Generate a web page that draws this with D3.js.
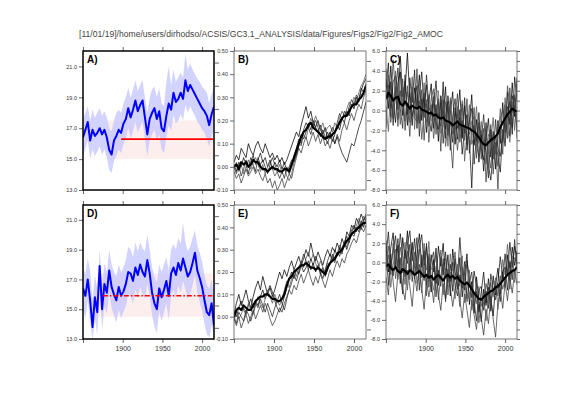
<!DOCTYPE html>
<html><head><meta charset="utf-8">
<script src="https://cdn.jsdelivr.net/npm/d3@7"></script>
<style>html,body{margin:0;padding:0;background:#fff;}svg{display:block}</style>
</head><body><svg id="c" width="561" height="397"></svg>
<script>
const titleText = "[11/01/19]/home/users/dirhodso/ACSIS/GC3.1_ANALYSIS/data/Figures/Figs2/Fig2/Fig2_AMOC";
const panelLetters = ["A)","B)","C)","D)","E)","F)"];
const years = [1850,1853,1856,1859,1862,1865,1868,1871,1874,1877,
1880,1883,1886,1889,1892,1895,1898,1901,1904,1907,
1910,1913,1916,1919,1922,1925,1928,1931,1934,1937,
1940,1943,1946,1949,1952,1955,1958,1961,1964,1967,
1970,1973,1976,1979,1982,1985,1988,1991,1994,1997,
2000,2003,2006,2009,2012,2015];
const xTickYears = [1850,1900,1950,2000];
const xLabelYears = [1900,1950,2000];
const amocTicks = [13,15,17,19,21];
const trendTicks = [-0.1,0,0.1,0.2,0.3,0.4,0.5];
const trendMinor = [-0.05,0.05,0.15,0.25,0.35,0.45];
const anomTicks = [-8,-6,-4,-2,0,2,4,6];
const anomMinor = [-7,-5,-3,-1,1,3,5];
const anomAll = [-8,-7,-6,-5,-4,-3,-2,-1,0,1,2,3,4,5,6];

// Panel A : AMOC ensemble mean, spread, observed band and reference
const aMean = [16.4,16.9,17.4,16.2,16.9,16.5,16.7,17.0,16.6,16.9,
16.4,15.6,15.3,16.2,16.5,16.9,16.7,17.3,17.6,18.3,
17.7,18.2,18.8,18.1,18.5,18.8,17.7,16.6,17.6,18.0,
18.3,17.6,18.1,17.0,16.8,17.8,18.6,18.2,19.3,18.7,
18.9,19.3,18.9,20.1,19.4,19.8,19.5,19.2,18.9,18.6,
18.3,18.1,17.8,17.2,17.9,18.4];
const aHigh = [17.6,18.0,18.4,17.5,18.2,17.7,18.0,18.3,17.8,18.1,
17.7,17.0,16.8,17.5,18.0,18.2,18.0,18.6,19.0,19.6,
19.0,19.5,20.1,19.4,19.8,20.1,19.0,18.0,19.0,19.5,
19.7,19.0,19.6,18.6,18.4,20.0,21.0,19.8,20.8,20.0,
20.3,20.6,20.3,21.8,20.8,21.2,20.8,20.5,20.2,20.0,
19.7,19.5,19.3,18.6,19.2,19.6];
const aLow = [15.2,15.7,16.2,15.0,15.6,15.2,15.5,15.8,15.3,15.6,
15.1,14.3,14.1,14.9,15.2,15.6,15.4,16.0,16.3,17.0,
16.3,16.8,17.4,16.7,17.1,17.4,16.3,15.2,16.2,16.6,
16.9,16.2,16.6,15.6,15.4,16.4,17.2,16.8,17.8,17.3,
17.5,17.9,17.5,18.5,18.0,18.4,18.1,17.8,17.4,17.2,
16.9,16.7,16.3,15.8,16.5,17.0];
const aBand = [15.0,17.5];
const aBandYears = [1880,2014];
const aRef = 16.3;
const aRefYears = [1898,2014];

// Panel D
const dMean = [16.4,15.9,17.0,15.6,13.8,15.8,14.8,17.9,15.0,16.7,
16.1,17.6,16.5,16.0,15.6,16.5,15.9,16.2,16.7,17.5,
17.4,16.9,17.8,17.3,18.0,17.5,17.2,18.3,17.4,16.1,
15.4,15.0,16.4,15.8,16.3,16.9,15.9,17.4,17.8,17.3,
18.1,17.6,18.4,17.8,17.2,17.5,18.1,18.8,17.6,17.1,
16.5,15.6,14.8,14.6,15.4,13.9];
const dHigh = [17.8,17.4,18.4,17.6,15.6,17.3,16.4,19.0,16.6,18.1,
17.5,19.0,18.0,17.5,17.2,18.0,17.5,17.8,18.3,19.2,
19.0,18.5,19.5,18.9,19.5,19.1,18.9,20.0,19.0,17.8,
17.2,16.8,18.0,17.5,18.0,18.5,17.6,19.0,19.4,19.0,
19.8,19.4,20.8,19.5,18.9,19.2,19.8,20.3,19.3,18.8,
18.2,17.3,16.6,16.4,17.0,15.8];
const dLow = [15.0,14.4,15.6,14.2,12.9,14.3,13.3,16.5,13.6,15.2,
14.7,16.1,15.1,14.6,14.1,15.0,14.4,14.8,15.2,16.0,
15.9,15.4,16.3,15.8,16.5,16.0,15.7,16.7,15.9,14.6,
13.8,13.4,14.9,14.2,14.8,15.4,14.3,15.9,16.3,15.7,
16.6,16.1,16.9,16.3,15.7,16.0,16.6,17.3,16.1,15.5,
14.9,14.0,13.3,13.1,13.9,13.2];
const dBand = [14.5,17.4];
const dBandYears = [1868,2013];
const dRef = 15.9;
const dRefYears = [1875,2013];

// Panel B : ensemble members and mean
const bMean = [0.00,0.01,-0.01,0.02,0.01,0.02,0.00,0.01,0.03,0.02,
0.02,0.00,-0.01,-0.01,-0.02,-0.01,0.00,-0.01,-0.01,-0.02,
-0.02,-0.01,-0.01,-0.02,0.01,0.04,0.07,0.10,0.13,0.15,
0.16,0.18,0.19,0.17,0.16,0.15,0.14,0.13,0.12,0.13,
0.13,0.14,0.15,0.17,0.19,0.21,0.22,0.22,0.24,0.26,
0.27,0.27,0.29,0.30,0.32,0.35];
const bMember1 = [0.02,0.05,0.03,0.08,0.06,0.04,0.10,0.07,0.05,0.09,
0.11,0.08,0.06,0.10,0.07,0.04,0.06,0.03,0.05,0.02,
0.04,0.01,0.03,0.06,0.09,0.12,0.15,0.13,0.18,0.22,
0.26,0.21,0.24,0.19,0.17,0.20,0.16,0.14,0.17,0.12,
0.15,0.11,0.14,0.18,0.16,0.21,0.19,0.24,0.22,0.27,
0.25,0.30,0.28,0.33,0.36,0.38];
const bMember2 = [-0.02,-0.05,-0.03,-0.07,-0.04,-0.01,-0.04,-0.02,0.00,-0.03,
-0.01,-0.04,-0.06,-0.03,-0.07,-0.05,-0.09,-0.06,-0.10,-0.08,
-0.05,-0.09,-0.06,-0.03,-0.05,0.00,0.04,0.08,0.06,0.10,
0.13,0.09,0.12,0.15,0.11,0.14,0.10,0.13,0.09,0.11,
0.08,0.12,0.10,0.14,0.11,0.16,0.19,0.16,0.20,0.23,
0.20,0.24,0.27,0.25,0.30,0.33];
const bMember3 = [0.01,-0.02,0.02,0.00,0.04,0.01,-0.03,0.02,0.05,0.01,
0.03,0.06,0.02,0.04,0.00,0.03,-0.01,0.02,0.00,0.03,
-0.01,0.02,-0.02,0.00,0.03,0.02,0.05,0.09,0.14,0.12,
0.15,0.19,0.16,0.20,0.17,0.15,0.18,0.14,0.12,0.15,
0.12,0.14,0.10,0.13,0.09,0.06,0.04,0.02,0.06,0.10,
0.09,0.13,0.17,0.20,0.24,0.28];
const bMember4 = [-0.01,0.02,-0.02,0.01,-0.03,0.00,0.03,-0.01,0.02,0.04,
0.01,-0.02,0.01,-0.03,0.00,0.02,-0.01,-0.04,-0.02,0.01,
-0.03,0.00,-0.04,-0.06,-0.03,0.02,0.07,0.11,0.09,0.14,
0.12,0.17,0.21,0.18,0.22,0.19,0.16,0.19,0.15,0.17,
0.18,0.15,0.19,0.17,0.21,0.24,0.22,0.25,0.28,0.26,
0.30,0.28,0.32,0.35,0.37,0.40];
const bMember5 = [0.00,-0.03,0.01,-0.04,-0.01,0.03,0.00,0.04,0.01,-0.02,
0.04,0.01,0.03,0.00,-0.03,0.01,0.04,0.01,-0.02,-0.05,
-0.02,-0.05,0.00,-0.03,0.00,0.05,0.08,0.12,0.10,0.16,
0.19,0.17,0.14,0.18,0.20,0.17,0.13,0.16,0.13,0.10,
0.14,0.17,0.15,0.19,0.23,0.20,0.24,0.22,0.26,0.29,
0.27,0.31,0.29,0.34,0.32,0.36];

// Panel E
const eMean = [0.00,0.03,0.04,0.03,0.05,0.04,0.03,0.03,0.05,0.07,
0.08,0.09,0.09,0.10,0.10,0.09,0.08,0.08,0.07,0.07,
0.08,0.10,0.14,0.17,0.18,0.20,0.21,0.22,0.23,0.23,
0.24,0.23,0.22,0.22,0.21,0.22,0.21,0.20,0.19,0.22,
0.24,0.25,0.26,0.28,0.29,0.30,0.32,0.34,0.35,0.37,
0.38,0.39,0.40,0.41,0.42,0.42];
const eMember1 = [0.01,0.06,0.10,0.05,0.08,0.12,0.07,0.04,0.09,0.13,
0.16,0.12,0.18,0.14,0.10,0.13,0.09,0.12,0.16,0.20,
0.17,0.21,0.18,0.22,0.25,0.21,0.24,0.27,0.23,0.26,
0.30,0.27,0.33,0.28,0.25,0.29,0.26,0.23,0.27,0.30,
0.27,0.31,0.29,0.33,0.30,0.35,0.32,0.38,0.36,0.41,
0.39,0.44,0.42,0.46,0.43,0.45];
const eMember2 = [-0.01,-0.04,0.00,-0.05,-0.02,0.01,-0.03,0.00,0.03,-0.01,
0.02,0.05,0.02,0.06,0.03,-0.01,-0.04,-0.02,0.01,0.04,
0.02,0.06,0.09,0.12,0.10,0.14,0.12,0.16,0.19,0.15,
0.18,0.21,0.17,0.14,0.18,0.15,0.19,0.16,0.13,0.17,
0.21,0.18,0.22,0.25,0.22,0.26,0.24,0.28,0.30,0.33,
0.35,0.33,0.37,0.40,0.38,0.41];
const eMember3 = [0.02,0.00,0.04,0.07,0.03,0.01,0.05,0.08,0.04,0.07,
0.05,0.09,0.12,0.08,0.11,0.14,0.11,0.07,0.04,0.02,
0.05,0.09,0.13,0.17,0.20,0.17,0.21,0.19,0.23,0.20,
0.22,0.25,0.21,0.24,0.20,0.23,0.19,0.22,0.18,0.21,
0.24,0.28,0.25,0.29,0.27,0.31,0.33,0.30,0.34,0.37,
0.36,0.40,0.38,0.43,0.40,0.44];
const eMember4 = [-0.02,0.02,-0.01,0.01,0.04,0.02,0.06,0.03,0.01,0.05,
0.09,0.06,0.04,0.08,0.12,0.09,0.06,0.10,0.07,0.05,
0.08,0.12,0.16,0.13,0.17,0.21,0.18,0.22,0.25,0.22,
0.26,0.29,0.25,0.28,0.24,0.21,0.25,0.22,0.20,0.24,
0.23,0.27,0.24,0.28,0.32,0.29,0.34,0.31,0.36,0.39,
0.37,0.41,0.44,0.41,0.45,0.43];
const eMember5 = [0.00,-0.03,0.02,0.00,-0.02,0.03,0.01,-0.02,0.02,0.06,
0.04,0.08,0.05,0.02,0.06,0.03,0.00,0.04,0.07,0.10,
0.06,0.03,0.08,0.12,0.15,0.19,0.16,0.20,0.24,0.28,
0.25,0.21,0.26,0.23,0.27,0.24,0.20,0.17,0.21,0.25,
0.28,0.25,0.30,0.27,0.31,0.28,0.33,0.36,0.33,0.38,
0.41,0.38,0.42,0.39,0.43,0.46];

// Panel C
const cMean = [1.2,1.8,1.5,1.0,1.3,1.4,0.7,0.5,0.9,0.6,
0.2,0.5,0.3,0.2,0.4,0.1,0.0,-0.1,-0.3,-0.2,
-0.5,-0.4,-0.7,-0.8,-0.7,-1.0,-1.1,-1.2,-1.5,-1.3,
-1.1,-1.4,-1.5,-1.6,-1.7,-1.8,-2.0,-2.1,-2.4,-2.7,
-3.1,-3.4,-3.5,-3.2,-3.0,-2.8,-2.6,-2.3,-1.7,-1.2,
-0.8,-0.4,-0.1,0.2,0.0,-0.1];
const cMember1 = [3.1,0.2,4.5,1.0,-1.2,2.8,3.9,-0.5,2.0,5.8,
1.2,-1.5,2.3,0.4,3.6,-1.0,1.8,-2.2,0.9,2.7,
-1.8,0.6,-3.1,1.5,-0.7,2.4,-2.5,-0.3,1.9,-3.4,
-0.6,2.1,-2.8,0.5,-4.0,-1.2,1.6,-3.5,-0.9,-5.2,
-2.4,-6.1,-3.0,-0.8,-4.7,-2.1,-5.9,-1.0,-3.3,0.8,
-2.2,1.9,-1.4,2.8,-0.6,3.3];
const cMember2 = [-1.8,2.6,0.3,5.1,1.7,-0.9,1.4,3.2,-2.0,0.8,
-2.6,1.9,-0.4,4.2,-1.3,2.1,-3.0,0.7,-1.6,1.3,
2.2,-2.4,0.9,-4.1,1.1,-1.9,0.4,-2.7,-5.8,-0.8,
1.7,-3.2,-1.0,-2.3,1.2,-4.3,-2.0,0.3,-4.8,-1.6,
-4.9,-1.8,-7.2,-3.6,-1.4,-6.4,-3.2,-7.9,-2.0,-4.4,
0.6,-2.8,2.3,-1.7,1.4,-0.9];
const cMember3 = [2.2,4.8,-0.6,2.9,3.5,0.1,5.5,1.4,3.0,-1.5,
3.3,0.8,4.1,-1.8,1.6,3.9,0.2,2.6,-0.9,-2.1,
0.7,3.0,-0.5,-1.6,2.9,-2.8,1.5,-1.1,-3.2,0.3,
-2.9,0.1,-4.4,-1.8,-0.4,-2.9,-7.8,-1.5,-3.1,-0.2,
-3.8,-5.0,-1.2,-5.5,-7.0,-3.9,-2.6,-4.7,-6.2,-1.9,
-3.6,-0.5,0.9,-2.4,3.4,1.0];
const cMember4 = [0.4,-2.1,2.6,-0.8,4.0,1.6,-1.4,2.3,0.5,1.9,
-0.3,3.4,-1.9,1.7,-0.8,-0.2,2.8,-1.2,1.6,-1.0,
-0.9,1.8,2.0,-2.3,-1.6,0.9,-3.6,1.3,-1.8,-2.0,
0.4,-2.0,1.0,-5.1,-2.2,0.6,-3.4,-2.6,0.4,-3.3,
-1.1,-3.9,-5.4,-2.4,-3.0,-0.7,-4.4,-2.9,0.2,-3.2,
1.3,-1.5,-3.2,0.9,-2.0,2.2];
const cMember5 = [4.2,1.3,2.9,-1.5,1.9,4.3,0.2,-1.8,3.6,-0.4,
1.8,-0.6,0.9,2.5,-2.6,1.2,-0.7,3.6,0.4,-0.5,
1.4,-1.2,-1.9,0.8,-3.3,-0.4,0.9,-4.0,-0.6,1.2,
-1.8,-0.7,-2.6,1.3,-3.4,-1.0,0.2,-5.4,-2.6,-1.2,
-3.1,-0.4,-4.0,-6.8,-1.9,-4.9,-0.9,-3.8,-4.6,-2.6,
-1.0,0.4,-2.6,1.5,0.2,-1.7];
const cMember6 = [1.0,3.6,-1.2,0.6,2.4,-1.6,2.0,1.0,-1.1,2.5,
-1.2,2.4,-0.8,-1.1,1.0,-2.9,-0.2,1.1,-3.2,0.6,
-2.8,-0.3,1.2,-1.0,-0.2,-3.6,-1.6,1.0,-2.4,-1.3,
-4.0,-1.3,0.7,-3.0,-0.9,-2.4,-1.1,-0.6,-3.6,-4.5,
-2.0,-3.2,-2.4,-4.1,-5.8,-2.5,-3.8,-5.6,-0.8,0.1,
-3.2,2.5,0.4,-0.2,1.6,-2.8];

// Panel F
const fMean = [-0.4,-0.2,-0.6,-0.8,-0.5,-0.9,-1.1,-0.7,-0.9,-1.2,
-0.8,-1.0,-1.3,-1.1,-0.9,-1.2,-1.5,-1.3,-1.6,-1.4,
-1.8,-1.5,-1.3,-1.6,-1.9,-1.5,-1.3,-1.6,-1.4,-1.7,
-1.5,-1.9,-2.1,-2.3,-2.1,-2.4,-2.8,-3.2,-3.5,-3.8,
-3.9,-3.6,-3.4,-3.2,-3.0,-2.9,-2.6,-2.5,-2.2,-1.9,
-1.6,-1.3,-1.1,-0.9,-0.8,-0.5];
const fMember1 = [2.3,-1.0,1.5,3.1,-0.6,1.8,-2.2,2.6,0.4,3.3,
-0.8,2.1,-1.7,0.9,3.0,-0.5,1.2,-2.4,0.6,-3.1,
0.3,-2.2,1.7,-0.4,2.0,-1.6,0.8,-3.5,1.4,-0.9,
-2.8,0.5,-3.6,-1.1,0.9,-4.4,-2.0,-5.3,-1.5,-4.0,
-6.2,-2.8,-4.5,-1.7,-3.9,-5.6,-2.4,-0.6,-3.3,-1.0,
-2.6,0.8,-1.9,1.6,-0.3,1.2];
const fMember2 = [-1.5,-3.4,0.2,-2.0,-4.1,-1.2,0.5,-2.7,-3.9,-0.8,
-2.5,-4.6,-1.4,-3.0,-0.2,-2.8,-4.9,-1.9,-3.6,-2.0,
-4.2,-1.1,-3.3,-5.0,-2.2,-3.8,-0.7,-2.6,-4.6,-2.9,
-1.2,-3.9,-5.8,-3.3,-5.0,-6.8,-3.9,-5.5,-7.0,-4.4,
-5.8,-7.6,-4.9,-6.4,-3.6,-5.9,-7.8,-4.3,-2.8,-4.8,
-2.1,-4.0,-1.6,-3.2,-0.9,-2.3];
const fMember3 = [0.5,3.2,-0.4,1.2,2.8,-0.6,3.0,0.7,-1.5,1.9,
3.3,0.2,2.5,-1.2,1.6,2.9,-0.3,1.7,-1.4,0.8,
-1.0,1.5,-2.4,0.6,-1.3,1.1,-2.1,-0.2,-3.0,0.4,
-1.8,2.6,-1.0,-2.9,0.2,-1.6,-3.7,-0.9,-2.5,-5.2,
-3.1,-1.0,-4.2,-2.6,-5.1,-1.4,-3.4,-2.0,0.6,-1.7,
0.9,-1.2,2.1,-0.5,1.7,0.3];
const fMember4 = [-0.9,0.8,-2.6,-0.3,1.4,-1.8,0.2,-1.1,2.1,-2.9,
0.5,-1.3,1.1,-2.2,-0.7,-3.2,0.3,-0.8,2.2,-1.6,
-2.9,-0.4,-1.6,1.3,-3.4,-0.6,-2.6,0.9,-1.7,-3.8,
-0.2,-2.5,0.7,-4.2,-2.8,-0.8,-5.0,-3.1,-4.3,-2.5,
-4.6,-3.3,-6.1,-3.9,-2.1,-3.6,-1.6,-4.9,-2.6,0.3,
-1.3,1.9,-0.6,0.7,-2.1,0.9];
const fMember5 = [1.6,-2.4,0.9,-1.4,0.3,2.5,-0.9,-3.3,1.3,-0.1,
1.9,-2.0,0.0,2.6,-2.9,0.8,-1.9,2.0,-2.6,0.2,
1.1,-3.6,-0.8,-2.5,0.4,-4.1,-1.2,-2.0,0.0,-2.4,
-3.5,-1.3,-2.7,0.1,-3.8,-2.1,-1.0,-4.0,-6.1,-2.9,
-2.5,-5.0,-3.0,-4.8,-1.2,-2.8,-3.9,-2.2,-4.1,-0.9,
-0.5,-2.9,0.1,-1.8,2.4,-0.6];
const fMember6 = [-0.2,1.7,-1.3,2.0,-1.7,0.1,1.6,-0.4,-2.3,1.2,
-1.8,0.7,-0.6,-0.4,1.4,-1.6,2.0,-3.5,0.9,-0.7,
-0.6,0.8,-3.9,-1.3,-0.2,0.4,-3.4,-1.1,-0.8,1.1,
-2.1,-4.6,-0.5,-1.9,-4.1,-3.3,-2.4,-4.7,-3.0,-6.3,
-3.7,-4.4,-2.2,-3.4,-4.6,-1.9,-2.2,-3.5,-1.4,-2.8,
-1.8,-0.7,-2.8,-0.1,0.5,-0.2];

// ---------- layout ----------
const cols = [[83,214],[234,366],[386,517]];
const rows = [[51,190],[205,339]];
const FONT = "'Liberation Sans', Arial, sans-serif";
const memberColors = ["#000","#3a3a3a","#111","#555","#222","#444"];

const allSeries = [aMean,aHigh,aLow,dMean,dHigh,dLow,bMean,bMember1,bMember2,bMember3,bMember4,bMember5,
  eMean,eMember1,eMember2,eMember3,eMember4,eMember5,cMean,cMember1,cMember2,cMember3,cMember4,cMember5,cMember6,
  fMean,fMember1,fMember2,fMember3,fMember4,fMember5,fMember6];
allSeries.forEach((s,i)=>{ if(s.length!==years.length) throw new Error("series "+i+" has "+s.length); });

const panels = [
  {c:0,r:0,kind:"amoc",dom:[13,22],mean:aMean,hi:aHigh,lo:aLow,band:aBand,bandYears:aBandYears,ref:aRef,refYears:aRefYears,dashed:false},
  {c:1,r:0,kind:"trend",dom:[-0.1,0.5],mean:bMean,members:[bMember1,bMember2,bMember3,bMember4,bMember5]},
  {c:2,r:0,kind:"anom",dom:[-8,6],mean:cMean,members:[cMember1,cMember2,cMember3,cMember4,cMember5,cMember6]},
  {c:0,r:1,kind:"amoc",dom:[13,22],mean:dMean,hi:dHigh,lo:dLow,band:dBand,bandYears:dBandYears,ref:dRef,refYears:dRefYears,dashed:true},
  {c:1,r:1,kind:"trend",dom:[-0.1,0.5],mean:eMean,members:[eMember1,eMember2,eMember3,eMember4,eMember5]},
  {c:2,r:1,kind:"anom",dom:[-8,6],mean:fMean,members:[fMember1,fMember2,fMember3,fMember4,fMember5,fMember6]}
];

const svg = d3.select("#c");
svg.append("rect").attr("width",561).attr("height",397).attr("fill","#fff");
const defs = svg.append("defs");

svg.append("text").attr("x",79).attr("y",37).attr("font-family",FONT).attr("font-size",8.5)
  .attr("fill","#444").attr("textLength",364).attr("lengthAdjust","spacingAndGlyphs").text(titleText);

function styleAxis(g, color){
  g.select(".domain").remove();
  g.selectAll(".tick line").attr("stroke",color).attr("stroke-width",0.8);
  g.selectAll(".tick text").attr("fill","#333").attr("font-family",FONT);
}

panels.forEach((p,i)=>{
  const [x0,x1] = cols[p.c], [y0,y1] = rows[p.r];
  const x = d3.scaleLinear().domain([1850,2015]).range([x0,x1]);
  const y = d3.scaleLinear().domain(p.dom).range([y1,y0]);
  const g = svg.append("g");
  const cid = "clip"+i;
  defs.append("clipPath").attr("id",cid).append("rect").attr("x",x0).attr("y",y0).attr("width",x1-x0).attr("height",y1-y0);
  const plot = g.append("g").attr("clip-path","url(#"+cid+")");
  const line = d3.line().x((d,j)=>x(years[j])).y(d=>y(d));

  if(p.kind==="amoc"){
    plot.append("rect").attr("x",x(p.bandYears[0])).attr("width",x(p.bandYears[1])-x(p.bandYears[0]))
      .attr("y",y(p.band[1])).attr("height",y(p.band[0])-y(p.band[1])).attr("fill","#fdeeee");
    const area = d3.area().x((d,j)=>x(years[j])).y0((d,j)=>y(p.lo[j])).y1((d,j)=>y(p.hi[j]));
    plot.append("path").datum(p.mean).attr("d",area).attr("fill","#c4c4ff").attr("fill-opacity",0.75);
    plot.append("path").datum(p.mean).attr("d",line).attr("fill","none").attr("stroke","#0000ff").attr("stroke-width",2).attr("stroke-linejoin","round");
    const rl = plot.append("line").attr("x1",x(p.refYears[0])).attr("x2",x(p.refYears[1]))
      .attr("y1",y(p.ref)).attr("y2",y(p.ref)).attr("stroke","#ff0000").attr("stroke-width",p.dashed?1.4:1.8);
    if(p.dashed) rl.attr("stroke-dasharray","5,2,1.5,2");
  } else {
    p.members.forEach((m,k)=>{
      plot.append("path").datum(m).attr("d",line).attr("fill","none")
        .attr("stroke",memberColors[k%memberColors.length]).attr("stroke-width",0.75);
    });
    plot.append("path").datum(p.mean).attr("d",line).attr("fill","none").attr("stroke","#000").attr("stroke-width",2.2).attr("stroke-linejoin","round");
  }

  const frameColor = p.kind==="amoc" ? "#000" : "#555";
  const tickColor = "#444";
  const gt = g.append("g").attr("transform",`translate(0,${y0})`)
    .call(d3.axisTop(x).tickValues(xTickYears).tickSize(4).tickFormat(""));
  styleAxis(gt,tickColor);
  const gb = g.append("g").attr("transform",`translate(0,${y1})`)
    .call(d3.axisBottom(x).tickValues(xTickYears).tickSize(4).tickPadding(3)
      .tickFormat(d => (p.r===1 && xLabelYears.includes(d)) ? String(d) : ""));
  styleAxis(gb,tickColor);
  gb.selectAll(".tick text").attr("font-size",7);

  let ticks, fmt, minor=null;
  if(p.kind==="amoc"){ ticks=amocTicks; fmt=d=>d.toFixed(1); }
  else if(p.kind==="trend"){ ticks=trendTicks; fmt=d=>d.toFixed(2); minor=trendMinor; }
  else { ticks=anomTicks; fmt=d=>d.toFixed(1); minor=anomMinor; }
  const gl = g.append("g").attr("transform",`translate(${x0},0)`)
    .call(d3.axisLeft(y).tickValues(ticks).tickSize(4).tickPadding(2).tickFormat(fmt));
  styleAxis(gl,tickColor);
  gl.selectAll(".tick text").attr("font-size",5.5);
  if(minor){
    const gm = g.append("g").attr("transform",`translate(${x0-19},0)`)
      .call(d3.axisRight(y).tickValues(minor).tickSize(4).tickFormat(""));
    styleAxis(gm,tickColor);
  }
  if(p.kind==="anom"){
    const gr = g.append("g").attr("transform",`translate(${x1},0)`)
      .call(d3.axisRight(y).tickValues(anomAll).tickSize(3).tickFormat(""));
    styleAxis(gr,tickColor);
  }

  g.append("rect").attr("x",x0).attr("y",y0).attr("width",x1-x0).attr("height",y1-y0)
    .attr("fill","none").attr("stroke",frameColor).attr("stroke-width",p.kind==="amoc"?1.5:0.8);

  g.append("text").attr("x",x0+4).attr("y",y0+12).attr("font-family",FONT).attr("font-weight","bold")
    .attr("font-size",10).attr("fill","#000").text(panelLetters[i]);
});
</script></body></html>
